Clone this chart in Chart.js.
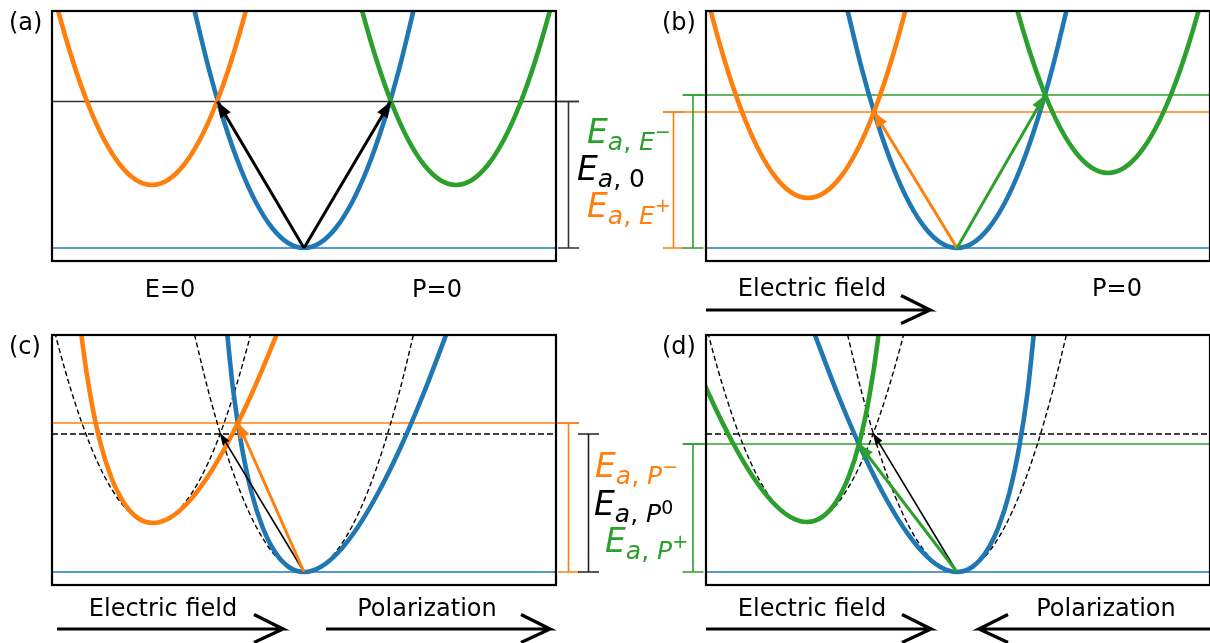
<!DOCTYPE html>
<html>
<head>
<meta charset="utf-8">
<script src="https://cdn.jsdelivr.net/npm/chart.js@4.4.0/dist/chart.umd.min.js"></script>
<style>
html, body { margin: 0; padding: 0; background: #fff; }
#fig { position: relative; width: 1210px; height: 643px; overflow: hidden; }
#fig canvas { position: absolute; left: 0; top: 0; }
</style>
</head>
<body>
<div id="fig">
  <canvas id="pa" width="1210" height="643"></canvas>
  <canvas id="pb" width="1210" height="643"></canvas>
  <canvas id="pc" width="1210" height="643"></canvas>
  <canvas id="pd" width="1210" height="643"></canvas>
</div>
<script>
// shape of one well in (a): offsets from its vertex
var wellDx = [-1.113, -0.954, -0.795, -0.636, -0.477, -0.318, -0.159, 0, 0.159, 0.318, 0.477, 0.636, 0.795, 0.954, 1.113];
var wellDy = [2.45, 1.80, 1.25, 0.80, 0.45, 0.20, 0.05, 0, 0.05, 0.20, 0.45, 0.80, 1.25, 1.80, 2.45];
// sideways lean of the wells once polarization acts, (c) and (d)
var leanDx = [0.338, 0.248, 0.173, 0.110, 0.062, 0.028, 0.007, 0, 0.007, 0.028, 0.062, 0.110, 0.173, 0.248, 0.338];

// wells: [vertex x, vertex y, lean]
var wellsA = [[0, 0, 0], [-1.52, 0.63, 0], [1.52, 0.63, 0]];          // blue, orange, green
var wellsB = [[0, 0, 0], [-1.49, 0.50, 0], [1.51, 0.75, 0]];          // blue, orange, green
var wellsC = [[0, 0, 0], [-1.51, 0.49, 0], [0, 0, 1], [-1.51, 0.49, 1]];   // dashed blue, dashed orange, blue, orange
var wellsD = [[0, 0, 0], [-1.51, 0.49, 0], [0, 0, -1], [-1.50, 0.50, -1]]; // dashed blue, dashed orange, blue, green

// barrier heights
var levelsA = [1.465];        // E_a,0
var levelsB = [1.53, 1.36];   // E_a,E-  E_a,E+
var levelsC = [1.49, 1.38];   // E_a,P-  E_a,P0
var levelsD = [1.28, 1.38];   // E_a,P+  E_a,P0

// arrow tips (all start at the bottom of the blue well)
var tipsA = [[-0.866, 1.465], [0.866, 1.465]];
var tipsB = [[-0.83, 1.36], [0.88, 1.53]];
var tipsC = [[-0.837, 1.386], [-0.66, 1.49]];
var tipsD = [[-0.837, 1.386], [-0.98, 1.28]];

var blue = '#1f77b4', orange = '#ff7f0e', green = '#2ca02c';
var W = 1210, H = 643;

function wellPoints(w) {
  var pts = [];
  for (var i = 0; i < wellDx.length; i++) {
    pts.push({ x: w[0] + wellDx[i] + w[2] * leanDx[i], y: w[1] + wellDy[i] });
  }
  return pts;
}

function curve(w, color, dashed) {
  return {
    data: wellPoints(w), borderColor: color,
    borderWidth: dashed ? 1.4 : 4.6, borderDash: dashed ? [5, 3] : [],
    cubicInterpolationMode: 'monotone'
  };
}

function hline(y, x0, x1, color, width, dash) {
  return {
    data: [{ x: x0, y: y }, { x: x1, y: y }], borderColor: color,
    borderWidth: width || 1.6, borderDash: dash || [], clip: false
  };
}

function bracket(xm, top, color) {
  var h = 0.105;
  return {
    data: [{ x: xm - h, y: top }, { x: xm + h, y: top }, { x: xm, y: null },
           { x: xm, y: top }, { x: xm, y: 0 }, { x: xm, y: null },
           { x: xm - h, y: 0 }, { x: xm + h, y: 0 }],
    borderColor: color, borderWidth: 1.6, clip: false
  };
}

function arrow(tip, color, width, head) {
  return {
    data: [{ x: 0, y: 0 }, { x: tip[0], y: tip[1] }],
    borderColor: color, borderWidth: width, head: head
  };
}

function pointer(x0, x1, y) {
  var d = x1 > x0 ? 0.29 : -0.29;
  return {
    data: [{ x: x0, y: y }, { x: x1, y: y }, { x: x1 - d, y: y + 0.145 }, { x: x1, y: null },
           { x: x1 - d, y: y - 0.135 }, { x: x1, y: y }],
    borderColor: '#000', borderWidth: 3.2, clip: false, borderJoinStyle: 'miter'
  };
}

function mathLabel(x, y, color, sub, sup, supUp) {
  var runs = [{ t: 'E', size: 33, it: true, dy: 0 }];
  runs.push({ t: 'a', size: 25, it: true, dy: 7 });
  runs.push({ t: ', ', size: 25, it: false, dy: 7 });
  runs.push({ t: sub, size: 25, it: sub !== '0', dy: 7 });
  if (sup) runs.push({ t: sup, size: 19, it: false, dy: supUp });
  return { x: x, y: y, color: color, runs: runs };
}

var annot = {
  id: 'annot',
  afterDatasetsDraw: function (chart, args, opts) {
    var ctx = chart.ctx, a = chart.chartArea;
    ctx.save();
    ctx.strokeStyle = '#000';
    ctx.lineWidth = 2.2;
    ctx.strokeRect(a.left, a.top, a.right - a.left, a.bottom - a.top);

    chart.data.datasets.forEach(function (ds, i) {
      if (!ds.head) return;
      var pts = chart.getDatasetMeta(i).data;
      var p0 = pts[0], p1 = pts[pts.length - 1];
      var ang = Math.atan2(p1.y - p0.y, p1.x - p0.x);
      var c = Math.cos(ang), s = Math.sin(ang);
      var len = ds.head[0], wid = ds.head[1] / 2;
      var bx = p1.x - len * c, by = p1.y - len * s;
      ctx.beginPath();
      ctx.moveTo(p1.x, p1.y);
      ctx.lineTo(bx - wid * s, by + wid * c);
      ctx.lineTo(bx + wid * s, by - wid * c);
      ctx.closePath();
      ctx.fillStyle = ds.borderColor;
      ctx.fill();
    });

    ctx.fillStyle = '#000';
    ctx.textBaseline = 'alphabetic';
    (opts.texts || []).forEach(function (t) {
      ctx.font = '24px "DejaVu Sans"';
      ctx.textAlign = t[3] || 'center';
      ctx.fillText(t[0], t[1], t[2]);
    });

    ctx.textAlign = 'left';
    (opts.maths || []).forEach(function (m) {
      var x = m.x;
      ctx.fillStyle = m.color;
      m.runs.forEach(function (r) {
        ctx.font = (r.it ? 'italic ' : '') + r.size + 'px "DejaVu Sans"';
        ctx.fillText(r.t, x, m.y + r.dy);
        x += ctx.measureText(r.t).width;
      });
    });
    ctx.restore();
  }
};

function panel(id, area, xr, datasets, texts, maths) {
  var n = datasets.length;
  datasets.forEach(function (ds, i) {
    ds.order = n - i;
    ds.pointRadius = 0;
    ds.fill = false;
  });
  return new Chart(document.getElementById(id), {
    type: 'line',
    data: { datasets: datasets },
    plugins: [annot],
    options: {
      responsive: false,
      animation: false,
      events: [],
      layout: { padding: { left: area[0], top: area[1], right: W - area[2], bottom: H - area[3] } },
      scales: {
        x: { type: 'linear', display: false, min: xr[0], max: xr[1] },
        y: { type: 'linear', display: false, min: -0.13, max: 2.37 }
      },
      plugins: {
        legend: { display: false },
        tooltip: { enabled: false },
        annot: { texts: texts, maths: maths }
      }
    }
  });
}

panel('pa', [52, 11, 556, 261], [-2.52, 2.52], [
  hline(0, -2.52, 2.52, blue),
  hline(levelsA[0], -2.52, 2.75, '#333'),
  bracket(2.645, levelsA[0], '#333'),
  curve(wellsA[0], blue),
  curve(wellsA[1], orange),
  curve(wellsA[2], green),
  arrow(tipsA[0], '#000', 3, [16, 12]),
  arrow(tipsA[1], '#000', 3, [16, 12])
], [
  ['(a)', 9, 30, 'left'], ['E=0', 170, 297], ['P=0', 437, 297]
], [
  mathLabel(587, 143, green, 'E', '\u2212', -5),
  mathLabel(577, 180, '#000', '0'),
  mathLabel(587, 217, orange, 'E', '+', -5)
]);

panel('pb', [706, 11, 1210, 261], [-2.51, 2.53], [
  hline(0, -2.51, 2.53, blue),
  hline(levelsB[0], -2.74, 2.53, green),
  hline(levelsB[1], -2.94, 2.53, orange),
  bracket(-2.835, levelsB[1], orange),
  bracket(-2.64, levelsB[0], green),
  curve(wellsB[0], blue),
  curve(wellsB[1], orange),
  curve(wellsB[2], green),
  arrow(tipsB[0], orange, 3, [15, 12]),
  arrow(tipsB[1], green, 3, [15, 12]),
  pointer(-2.51, -0.27, -0.62)
], [
  ['(b)', 662, 30, 'left'], ['Electric field', 812, 296], ['P=0', 1117, 296]
], []);

panel('pc', [52, 335, 556, 585], [-2.52, 2.52], [
  hline(0, -2.52, 2.52, blue),
  hline(levelsC[1], -2.52, 2.52, '#000', 1.6, [6, 3]),
  hline(levelsC[0], -2.52, 2.75, orange),
  bracket(2.645, levelsC[0], orange),
  bracket(2.845, levelsC[1], '#222'),
  curve(wellsC[0], '#000', true),
  curve(wellsC[1], '#000', true),
  curve(wellsC[2], blue),
  curve(wellsC[3], orange),
  arrow(tipsC[0], '#000', 1.6, [11, 8]),
  arrow(tipsC[1], orange, 3, [15, 12]),
  pointer(-2.47, -0.21, -0.57),
  pointer(0.22, 2.46, -0.57)
], [
  ['(c)', 9, 354, 'left'], ['Electric field', 163, 616], ['Polarization', 427, 616]
], [
  mathLabel(595, 477, orange, 'P', '\u2212', -4),
  mathLabel(594, 515, '#000', 'P', '0', -1),
  mathLabel(605, 552, green, 'P', '+', -4)
]);

panel('pd', [706, 335, 1210, 585], [-2.51, 2.53], [
  hline(0, -2.51, 2.53, blue),
  hline(levelsD[1], -2.51, 2.53, '#000', 1.6, [6, 3]),
  hline(levelsD[0], -2.74, 2.53, green),
  bracket(-2.64, levelsD[0], green),
  curve(wellsD[0], '#000', true),
  curve(wellsD[1], '#000', true),
  curve(wellsD[2], blue),
  curve(wellsD[3], green),
  arrow(tipsD[0], '#000', 1.6, [11, 8]),
  arrow(tipsD[1], green, 3, [15, 12]),
  pointer(-2.51, -0.26, -0.57),
  pointer(2.56, 0.22, -0.57)
], [
  ['(d)', 662, 354, 'left'], ['Electric field', 812, 616], ['Polarization', 1106, 616]
], []);
</script>
</body>
</html>
